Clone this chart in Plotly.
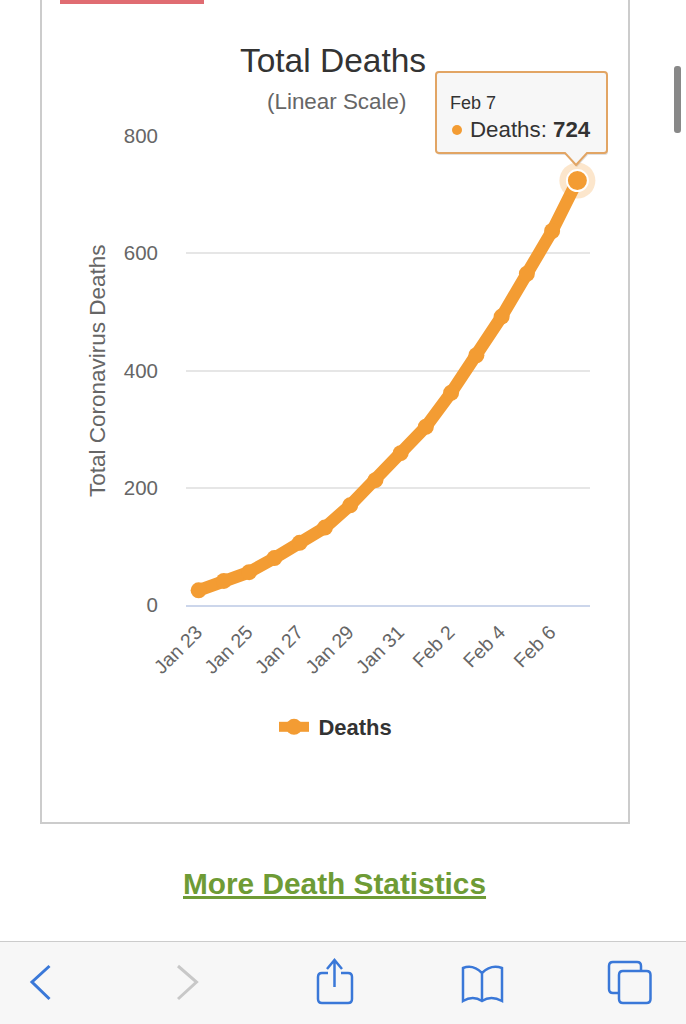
"""Total Deaths chart, as seen on a phone screenshot."""
import plotly.graph_objects as go

DATES = ['Jan 23', 'Jan 24', 'Jan 25', 'Jan 26', 'Jan 27', 'Jan 28', 'Jan 29', 'Jan 30',
         'Jan 31', 'Feb 1', 'Feb 2', 'Feb 3', 'Feb 4', 'Feb 5', 'Feb 6', 'Feb 7']
DEATHS = [25, 41, 56, 80, 106, 132, 170, 213, 259, 304, 362, 426, 492, 565, 638, 724]
X_TICKS = ['Jan 23', 'Jan 25', 'Jan 27', 'Jan 29', 'Jan 31', 'Feb 2', 'Feb 4', 'Feb 6']
Y_TICKS = [0, 200, 400, 600, 800]

W, H = 686, 1024
L, R, T, B = 186, 590, 136, 605   # plot area in page pixels

ORANGE = '#f39c33'
GREY = '#666666'
DARK = '#333333'
BLUE = '#3a78d8'
FONT = 'Liberation Sans, Arial, sans-serif'


def fx(x):
    return (x - L) / (R - L)


def fy(y):
    return (B - y) / (B - T)


def pt(x, y):
    return f'{fx(x):.5f},{fy(y):.5f}'


def rrect(x0, y0, x1, y1, r):
    return (f'M{pt(x0 + r, y0)} L{pt(x1 - r, y0)} Q{pt(x1, y0)} {pt(x1, y0 + r)} '
            f'L{pt(x1, y1 - r)} Q{pt(x1, y1)} {pt(x1 - r, y1)} '
            f'L{pt(x0 + r, y1)} Q{pt(x0, y1)} {pt(x0, y1 - r)} '
            f'L{pt(x0, y0 + r)} Q{pt(x0, y0)} {pt(x0 + r, y0)} Z')


def path(d, color, width=0, fill=None, layer='above'):
    return dict(type='path', xref='paper', yref='paper', path=d, layer=layer,
                line=dict(color=color, width=width), fillcolor=fill or 'rgba(0,0,0,0)')


def box(x0, y0, x1, y1, fill):
    return dict(type='rect', xref='paper', yref='paper', x0=fx(x0), x1=fx(x1),
                y0=fy(y0), y1=fy(y1), fillcolor=fill, line=dict(width=0), layer='above')


def tip_path(dx=0, dy=0):
    x0, y0, x1, y1, r = 436 + dx, 72 + dy, 607 + dx, 153 + dy, 3
    return (f'M{pt(x0 + r, y0)} L{pt(x1 - r, y0)} Q{pt(x1, y0)} {pt(x1, y0 + r)} '
            f'L{pt(x1, y1 - r)} Q{pt(x1, y1)} {pt(x1 - r, y1)} '
            f'L{pt(587 + dx, y1)} L{pt(576 + dx, 165 + dy)} L{pt(565 + dx, y1)} '
            f'L{pt(x0 + r, y1)} Q{pt(x0, y1)} {pt(x0, y1 - r)} '
            f'L{pt(x0, y0 + r)} Q{pt(x0, y0)} {pt(x0 + r, y0)} Z')


def label(text, x, y, size, color, anchor='left', **kw):
    return dict(text=text, xref='paper', yref='paper', x=fx(x), y=fy(y), showarrow=False,
                xanchor=anchor, yanchor='middle', font=dict(size=size, color=color, family=FONT), **kw)


shapes = [
    # page furniture
    box(60, 0, 204, 4, '#e06c72'),
    path(f'M{pt(41, 0)} L{pt(41, 823)} L{pt(629, 823)} L{pt(629, 0)}', '#cccccc', 2),
    path(rrect(674, 66, 681, 133, 3), '#888888', 0, '#888888'),
    box(0, 942, 686, 1024, '#f7f7f7'),
    box(0, 941, 686, 942, '#cccccc'),
    # browser toolbar icons
    path(f'M{pt(49.5, 966)} L{pt(32, 982)} L{pt(49.5, 999)}', BLUE, 3),
    path(f'M{pt(178, 966)} L{pt(196.5, 982)} L{pt(178, 999)}', '#c8c8c8', 3),
    path(f'M{pt(328, 973)} L{pt(322, 973)} Q{pt(318, 973)} {pt(318, 977)} L{pt(318, 999)} '
         f'Q{pt(318, 1003)} {pt(322, 1003)} L{pt(348, 1003)} Q{pt(352, 1003)} {pt(352, 999)} '
         f'L{pt(352, 977)} Q{pt(352, 973)} {pt(348, 973)} L{pt(341, 973)}', BLUE, 2.5),
    path(f'M{pt(334.5, 987)} L{pt(334.5, 960)} M{pt(327, 969)} L{pt(334.5, 960)} L{pt(342, 969)}', BLUE, 2.5),
    path(f'M{pt(482, 973)} Q{pt(473, 964)} {pt(463, 968)} L{pt(463, 1001)} '
         f'Q{pt(473, 995)} {pt(482, 1001)} Q{pt(491, 995)} {pt(502, 1001)} '
         f'L{pt(502, 968)} Q{pt(491, 964)} {pt(482, 973)} L{pt(482, 1001)}', BLUE, 2.5),
    path(f'M{pt(619, 993)} L{pt(613, 993)} Q{pt(609, 993)} {pt(609, 989)} L{pt(609, 966)} '
         f'Q{pt(609, 962)} {pt(613, 962)} L{pt(637, 962)} Q{pt(641, 962)} {pt(641, 966)} L{pt(641, 971)}', BLUE, 2.5),
    path(rrect(619, 971, 650.5, 1003, 4), BLUE, 2.5),
    # tooltip
    path(tip_path(1, 2), 'rgba(0,0,0,0.12)', 0, 'rgba(0,0,0,0.12)'),
    path(tip_path(), '#e2a564', 2, '#f7f7f7'),
    dict(type='circle', xref='paper', yref='paper', x0=fx(452), x1=fx(462), y0=fy(125), y1=fy(135),
         fillcolor=ORANGE, line=dict(width=0), layer='above'),
]

annotations = [
    label('(Linear Scale)', 336, 102, 22.4, GREY, 'center'),
    label('Feb 7', 448, 103, 18, DARK),
    label('Deaths: <b>724</b>', 468, 130, 22.3, DARK),
    label('<b><u>More Death Statistics</u></b>', 334.5, 883, 29.8, '#6e9b35', 'center'),
    # axis title placed by hand: the tick label standoff pushes the native one around
    label('Total Coronavirus Deaths', 97, 371, 22.5, GREY, 'center', textangle=-90),
]

fig = go.Figure()
fig.add_trace(go.Scatter(
    x=DATES, y=DEATHS, name='\u2009<b>Deaths</b>', mode='lines+markers',
    line=dict(color=ORANGE, width=12.5), marker=dict(color=ORANGE, size=16),
    cliponaxis=False,
))
# hover state on the last point: halo, then a white-ringed dot
fig.add_trace(go.Scatter(
    x=DATES[-1:], y=DEATHS[-1:], mode='markers', showlegend=False, cliponaxis=False,
    marker=dict(color='rgba(243,156,51,0.25)', size=36),
))
fig.add_trace(go.Scatter(
    x=DATES[-1:], y=DEATHS[-1:], mode='markers', showlegend=False, cliponaxis=False,
    marker=dict(color=ORANGE, size=21, line=dict(color='#ffffff', width=2)),
))

fig.update_layout(
    width=W, height=H, autosize=False,
    margin=dict(l=L, r=W - R, t=T, b=H - B, pad=0),
    paper_bgcolor='#ffffff', plot_bgcolor='#ffffff',
    font=dict(family=FONT, color=GREY),
    title=dict(text='Total Deaths', x=333 / W, y=1 - 60 / H, xanchor='center', yanchor='middle',
               font=dict(size=33.5, color=DARK, family=FONT)),
    xaxis=dict(
        type='category', categoryorder='array', categoryarray=DATES,
        range=[-0.5, 15.5], tickmode='array', tickvals=X_TICKS, ticktext=X_TICKS,
        tickangle=-45, tickfont=dict(size=19.5, color=GREY), ticklabelstandoff=6, ticklabelshift=-2,
        showgrid=False, zeroline=False,
        showline=True, linecolor='#ccd6eb', linewidth=2, ticks='',
    ),
    yaxis=dict(
        range=[0, 800], tickvals=Y_TICKS, tickfont=dict(size=20.5, color=GREY), ticklabelstandoff=27,
        showgrid=True, gridcolor='#e6e6e6', gridwidth=1.5, zeroline=False, ticks='', ticklen=0,
    ),
    legend=dict(x=fx(274), y=fy(727), xanchor='left', yanchor='middle', orientation='h',
                font=dict(size=22, color=DARK, family=FONT), bgcolor='rgba(0,0,0,0)'),
    shapes=shapes, annotations=annotations,
)

fig.write_html('out.html', config=dict(displayModeBar=False),
               post_script="document.body.style.margin='0';")
